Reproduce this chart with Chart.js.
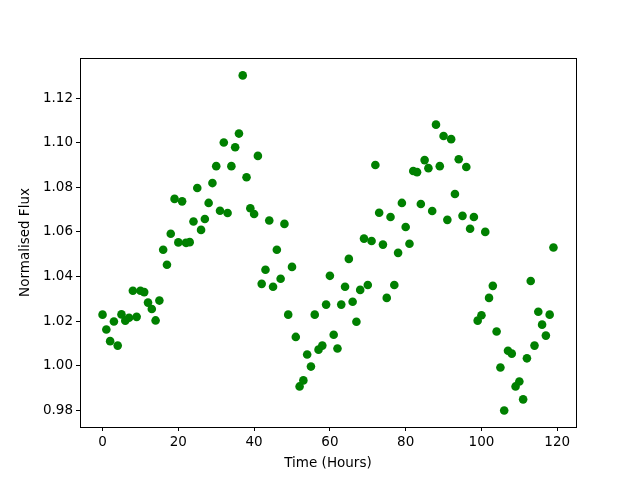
<!DOCTYPE html>
<html>
<head>
<meta charset="utf-8">
<script src="https://cdn.jsdelivr.net/npm/chart.js@4/dist/chart.umd.min.js"></script>
<style>
  html, body { margin: 0; padding: 0; background: #ffffff; }
  #wrap { width: 640px; height: 480px; }
</style>
</head>
<body>
<div id="wrap"><canvas id="c" width="640" height="480"></canvas></div>
<script>
// Time (hours)
const hours = [
  0,1,2,3,4,5,6,7,8,9,10,11,12,13,14,15,16,17,18,19,
  20,21,22,23,24,25,26,27,28,29,30,31,32,33,34,35,36,37,38,39,
  40,41,42,43,44,45,46,47,48,49,50,51,52,53,54,55,56,57,58,59,
  60,61,62,63,64,65,66,67,68,69,70,71,72,73,74,75,76,77,78,79,
  80,81,82,83,84,85,86,87,88,89,90,91,92,93,94,95,96,97,98,99,
  100,101,102,103,104,105,106,107,108,109,110,111,112,113,114,115,116,117,118,119
];
// Normalised flux
const flux = [
  1.0229,1.0162,1.0110,1.0198,1.0090,1.0230,1.0202,1.0215,1.0336,1.0219,
  1.0336,1.0330,1.0283,1.0254,1.0203,1.0292,1.0520,1.0453,1.0592,1.0748,
  1.0553,1.0737,1.0551,1.0554,1.0647,1.0797,1.0609,1.0658,1.0730,1.0819,
  1.0895,1.0695,1.1001,1.0685,1.0895,1.0980,1.1041,1.1302,1.0845,1.0706,
  1.0680,1.0941,1.0367,1.0430,1.0651,1.0354,1.0520,1.0390,1.0636,1.0229,
  1.0443,1.0129,0.9907,0.9934,1.0050,0.9996,1.0229,1.0072,1.0090,1.0274,
  1.0403,1.0139,1.0077,1.0274,1.0354,1.0479,1.0287,1.0197,1.0340,1.0570,
  1.0362,1.0559,1.0900,1.0686,1.0543,1.0304,1.0667,1.0362,1.0506,1.0730,
  1.0622,1.0547,1.0873,1.0868,1.0725,1.0922,1.0886,1.0694,1.1081,1.0895,
  1.1030,1.0654,1.1016,1.0770,1.0926,1.0672,1.0891,1.0614,1.0667,1.0202,
  1.0226,1.0600,1.0304,1.0358,1.0153,0.9992,0.9799,1.0067,1.0054,0.9907,
  0.9929,0.9849,1.0033,1.0380,1.0090,1.0242,1.0184,1.0135,1.0229,1.0530
];
const xTicks = [0, 20, 40, 60, 80, 100, 120];
const yTicks = [0.98, 1.00, 1.02, 1.04, 1.06, 1.08, 1.10, 1.12];
const xLabel = 'Time (Hours)';
const yLabel = 'Normalised Flux';

const points = hours.map((h, i) => ({ x: h, y: flux[i] }));

const frame = {
  id: 'frame',
  afterDatasetsDraw(chart) {
    const a = chart.chartArea, ctx = chart.ctx;
    ctx.save();
    ctx.strokeStyle = '#000';
    ctx.lineWidth = 1;
    ctx.strokeRect(Math.round(a.left) + 0.5, Math.round(a.top) + 0.5,
                   Math.round(a.right - a.left), Math.round(a.bottom - a.top));
    ctx.restore();
  }
};

const font = { family: 'DejaVu Sans', size: 13.5 };

new Chart(document.getElementById('c'), {
  type: 'scatter',
  data: {
    datasets: [{
      data: points,
      backgroundColor: '#008000',
      borderColor: '#008000',
      borderWidth: 0,
      pointRadius: 4.3,
      pointHoverRadius: 4.3
    }]
  },
  options: {
    responsive: false,
    animation: false,
    devicePixelRatio: 1,
    layout: { padding: { left: 0, top: 58, right: 64, bottom: 0 } },
    plugins: { legend: { display: false }, tooltip: { enabled: false } },
    scales: {
      x: {
        type: 'linear',
        min: -5.95,
        max: 124.95,
        afterBuildTicks: s => { s.ticks = xTicks.map(v => ({ value: v })); },
        afterFit: s => { s.height = 53; },
        grid: { display: true, drawOnChartArea: false, drawTicks: true, tickLength: 4, tickColor: '#000', tickWidth: 1 },
        border: { display: false },
        ticks: { color: '#000', font: font, padding: 3, maxRotation: 0, callback: v => String(v) },
        title: { display: true, text: xLabel, color: '#000', font: font, padding: { top: 0, bottom: 8 } }
      },
      y: {
        type: 'linear',
        min: 0.9725,
        max: 1.1380,
        afterBuildTicks: s => { s.ticks = yTicks.map(v => ({ value: v })); },
        afterFit: s => { s.width = 80; },
        grid: { display: true, drawOnChartArea: false, drawTicks: true, tickLength: 4, tickColor: '#000', tickWidth: 1 },
        border: { display: false },
        ticks: { color: '#000', font: font, padding: 3, callback: v => Number(v).toFixed(2) },
        title: { display: true, text: yLabel, color: '#000', font: font, padding: { top: 17, bottom: 0 } }
      }
    }
  },
  plugins: [frame]
});
</script>
</body>
</html>
